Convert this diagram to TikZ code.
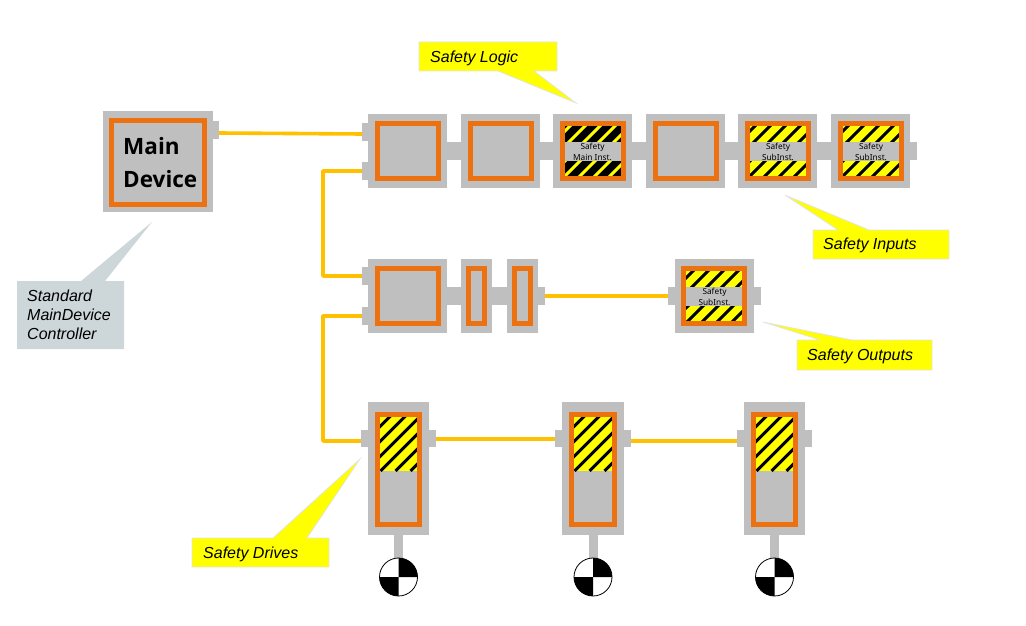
\documentclass[tikz,border=0pt]{standalone}
\usepackage{fontspec}
\setmainfont{Liberation Sans}
\newfontfamily\smallfont{Noto Sans}
\newfontfamily\mainfont{Open Sans}
\definecolor{bodygray}{HTML}{BFBFBF}
\definecolor{frameorange}{HTML}{EC7211}
\definecolor{busyellow}{HTML}{FFC000}
\definecolor{noteyellow}{HTML}{FFFF00}
\definecolor{notegray}{HTML}{CDD6D9}
\definecolor{noteedge}{HTML}{E4E4E4}
\tikzset{
  part/.style={rectangle,inner sep=0pt,outer sep=0pt,fill=bodygray},
  framebox/.style={rectangle,inner sep=0pt,outer sep=0pt,draw=frameorange,line width=5pt},
  bus/.style={draw=busyellow,line width=3.6pt,line join=round},
  callout/.style={fill=noteyellow,draw=noteedge,line width=0.8pt,line join=miter},
  graycallout/.style={fill=notegray,draw=none},
  notetext/.style={font=\fontsize{16}{19.5}\selectfont\itshape,anchor=base west,inner sep=0pt,align=left},
  smalltext/.style={font=\smallfont\fontsize{8.3}{11}\selectfont,align=center,inner sep=0pt},
  dial/.style={circle,draw=black,line width=0.8pt,fill=white,minimum size=38pt,inner sep=0pt,outer sep=0pt}
}
% #1 style, #2 name, #3 x0, #4 y0, #5 x1, #6 y1
\newcommand{\pbox}[6]{%
  \pgfmathsetmacro{\pbw}{#5-#3}\pgfmathsetmacro{\pbh}{#6-#4}%
  \pgfmathsetmacro{\pbx}{(#3+#5)/2}\pgfmathsetmacro{\pby}{(#4+#6)/2}%
  \node[#1,minimum width=\pbw pt,minimum height=\pbh pt] (#2) at (\pbx,\pby) {};}
% #1 x0, #2 y0, #3 x1, #4 y1, #5 background, #6 stripe, #7 stripe width, #8 phase
\newcommand{\hatchfill}[8]{%
  \begin{scope}
    \clip (#1,#2) rectangle (#3,#4);
    \fill[#5] (#1,#2) rectangle (#3,#4);
    \foreach \d in {-90,-75,...,90} {
      \draw[#6,line width=#7pt] (#1+\d+#8,#4) -- ++(80,-80);
    }
  \end{scope}}
\begin{document}
\begin{tikzpicture}[x=1pt,y=-1pt]
\useasboundingbox (0,0) rectangle (1026,626);

% callouts
\draw[callout] (419,42) -- (557,42) -- (557,71) -- (534,71) -- (576,103) -- (498,71) -- (419,71) -- cycle;
\node[notetext] (tlogic) at (430,63) {Safety Logic};
\draw[callout] (813,230) -- (838,230) -- (785,195) -- (869,230) -- (949,230) -- (949,259) -- (813,259) -- cycle;
\node[notetext] (tinputs) at (823,249) {Safety Inputs};
\draw[callout] (797,340) -- (820,340) -- (763,322) -- (852,340) -- (932,340) -- (932,370) -- (797,370) -- cycle;
\node[notetext] (toutputs) at (807,360) {Safety Outputs};
\draw[callout] (192,538) -- (273,538) -- (360,459) -- (307,538) -- (329,538) -- (329,567) -- (192,567) -- cycle;
\node[notetext] (tdrives) at (203,558) {Safety Drives};
\fill[graycallout] (17,281) -- (81,281) -- (152,222) -- (105,281) -- (124,281) -- (124,349) -- (17,349) -- cycle;
\node[notetext,font=\fontsize{16}{19}\selectfont\itshape,anchor=north west] (tctrl) at (27,290) {Standard\\MainDevice\\Controller};

% main device
\pbox{part}{main}{103}{111}{213}{212}
\pbox{part}{maintab}{213}{121}{219}{139}
\pbox{framebox}{mainframe}{111.5}{120.5}{204.5}{204}
\node[anchor=north west,inner sep=0pt,align=left,font=\mainfont\bfseries\fontsize{22.5}{33}\selectfont] (maintext) at (123,137.5) {Main\\Device};

% row 1
\pbox{part}{in1a}{362}{123}{368}{141}
\pbox{part}{in1b}{362}{162}{368}{180}
\pbox{part}{bar1}{447}{142}{461}{160}
\pbox{part}{bar2}{539}{142}{553}{160}
\pbox{part}{bar3}{632}{142}{646}{160}
\pbox{part}{bar4}{725}{142}{738}{160}
\pbox{part}{bar5}{817}{142}{831}{160}
\pbox{part}{bar6}{910}{142}{917}{160}
\pbox{part}{r1a}{368}{114}{447}{188}
\pbox{part}{r1b}{461}{114}{540}{188}
\pbox{part}{r1c}{553}{114}{632}{188}
\pbox{part}{r1d}{646}{114}{725}{188}
\pbox{part}{r1e}{738}{114}{817}{188}
\pbox{part}{r1f}{831}{114}{910}{188}
\pbox{framebox}{f1a}{377.5}{123.5}{438.5}{178.5}
\pbox{framebox}{f1b}{470.5}{123.5}{531.5}{178.5}
\hatchfill{562}{123}{624}{179}{black}{noteyellow}{3}{0}
\hatchfill{747}{123}{809}{179}{noteyellow}{black}{3}{0}
\hatchfill{840}{123}{902}{179}{noteyellow}{black}{3}{0}
\pbox{part}{b1c}{562}{142}{624}{161}
\pbox{part}{b1e}{747}{142}{809}{161}
\pbox{part}{b1f}{840}{142}{902}{161}
\pbox{framebox}{f1c}{562.5}{123.5}{623.5}{178.5}
\pbox{framebox}{f1d}{655.5}{123.5}{716.5}{178.5}
\pbox{framebox}{f1e}{747.5}{123.5}{808.5}{178.5}
\pbox{framebox}{f1f}{840.5}{123.5}{901.5}{178.5}
\node[smalltext] (t1c) at (592.5,151.5) {Safety\\Main Inst.};
\node[smalltext] (t1e) at (778,151.5) {Safety\\SubInst.};
\node[smalltext] (t1f) at (871,151.5) {Safety\\SubInst.};

% row 2
\pbox{part}{in2a}{362}{267}{368}{285}
\pbox{part}{in2b}{362}{307}{368}{325}
\pbox{part}{bar7}{447}{287}{461}{305}
\pbox{part}{bar8}{492}{287}{507}{305}
\pbox{part}{bar9}{538}{287}{545}{305}
\pbox{part}{r2a}{368}{259}{447}{333}
\pbox{part}{r2b}{461}{259}{492}{333}
\pbox{part}{r2c}{507}{259}{538}{333}
\pbox{framebox}{f2a}{377.5}{268.5}{438.5}{323.5}
\pbox{framebox}{f2b}{468.5}{268.5}{484.5}{323.5}
\pbox{framebox}{f2c}{514.5}{268.5}{530.5}{323.5}
\pbox{part}{in2d}{668}{287}{675}{305}
\pbox{part}{out2d}{754}{287}{761}{305}
\pbox{part}{r2d}{675}{259}{754}{333}
\hatchfill{683}{268}{745}{324}{noteyellow}{black}{3}{2}
\pbox{part}{b2d}{683}{287}{745}{306}
\pbox{framebox}{f2d}{683.5}{268.5}{744.5}{323.5}
\node[smalltext] (t2d) at (714.5,297) {Safety\\SubInst.};

% row 3
\foreach \n/\xa/\xb/\c in {a/368/429/398.5,b/562/624/593,c/744/805/774.5} {
  \pgfmathsetmacro{\tl}{\xa-7}\pgfmathsetmacro{\tr}{\xb+7}
  \pgfmathsetmacro{\fl}{\xa+9.5}\pgfmathsetmacro{\fr}{\xb-9.5}
  \pgfmathsetmacro{\sl}{\c-4.5}\pgfmathsetmacro{\sr}{\c+4.5}
  \pbox{part}{dl\n}{\tl}{430}{\xa}{447}
  \pbox{part}{dr\n}{\xb}{430}{\tr}{447}
  \pbox{part}{shaft\n}{\sl}{535}{\sr}{560}
  \pbox{part}{dr3\n}{\xa}{402}{\xb}{535}
  \hatchfill{\fl}{414}{\fr}{471}{noteyellow}{black}{3}{3}
  \pbox{framebox}{df\n}{\fl}{414.5}{\fr}{524.5}
  \node[dial] (dial\n) at (\c,577) {};
  \fill[black] (\c,577) -- (\c,558) arc[start angle=90,end angle=0,radius=19pt] -- cycle;
  \fill[black] (\c,577) -- (\c,596) arc[start angle=270,end angle=180,radius=19pt] -- cycle;
}

% connectors
\coordinate (p1) at (219,133);
\coordinate (p2) at (362,134);
\coordinate (p3) at (362,171);
\coordinate (p4) at (362,276);
\coordinate (p5) at (362,316);
\coordinate (p6) at (361,441);
\coordinate (p7) at (436,439);
\coordinate (p8) at (555,439);
\coordinate (p9) at (631,441);
\coordinate (p10) at (737,441);
\draw[bus] (p1) -- (p2);
\draw[bus] (p3) -- (323,171) -- (323,276) -- (p4);
\draw[bus] (p5) -- (323,316) -- (323,441) -- (p6);
\draw[bus] (bar9.east) -- (in2d.west);
\draw[bus] (p7) -- (p8);
\draw[bus] (p9) -- (p10);
\end{tikzpicture}
\end{document}
